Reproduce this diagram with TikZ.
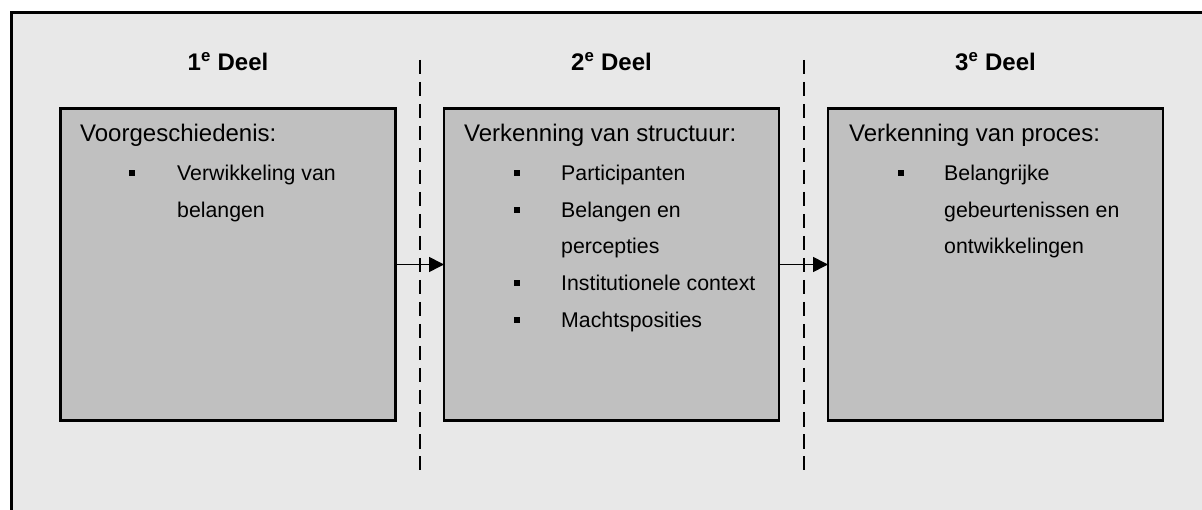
\documentclass[tikz,border=0pt]{standalone}
\usepackage{fontspec}
\setmainfont{Liberation Sans}
\usetikzlibrary{arrows.meta}
\definecolor{panelbg}{RGB}{232,232,232}
\definecolor{boxfill}{RGB}{192,192,192}
\begin{document}
\begin{tikzpicture}[x=1pt,y=-1pt,
  stagebox/.style={draw=black,line width=2.2pt,fill=boxfill,
    minimum width=335pt,minimum height=312pt,inner sep=0pt,outer sep=0pt},
  txt/.style={anchor=base west,inner sep=0pt,font=\fontsize{24}{29}\selectfont},
  item/.style={anchor=base west,inner sep=0pt,font=\fontsize{21.3}{26}\selectfont},
  head/.style={anchor=base,inner sep=0pt,font=\fontsize{24}{29}\selectfont\bfseries},
  sq/.style={fill=black,draw=none,minimum size=6pt,inner sep=0pt},
  divider/.style={line width=2pt,dash pattern=on 14.5pt off 7.5pt},
  flow/.style={line width=1.6pt,-{Triangle[length=15pt,width=15pt]}}]
  % canvas and frame
  \useasboundingbox (0,0) rectangle (1202,510);
  \fill[white] (0,0) rectangle (1202,510);
  \fill[panelbg] (10,11) rectangle (1202,510);
  \draw[line width=2.6pt] (11.3,512) -- (11.3,12.3) -- (1204,12.3);

  % dividers between the parts
  \coordinate (d1t) at (420,60);  \coordinate (d1b) at (420,470);
  \coordinate (d2t) at (804,60);  \coordinate (d2b) at (804,470);
  \draw[divider] (d1t) -- (d1b);
  \draw[divider] (d2t) -- (d2b);

  % the three stages
  \node[stagebox] (b1) at (228,264.5) {};
  \node[stagebox] (b2) at (611.5,264.5) {};
  \node[stagebox] (b3) at (995.5,264.5) {};

  \draw[flow] (b1) -- (b2);
  \draw[flow] (b2) -- (b3);

  % headings
  \node[head] (h1) at (228,71) {1\textsuperscript{e} Deel};
  \node[head] (h2) at (611.5,71) {2\textsuperscript{e} Deel};
  \node[head] (h3) at (995.5,71) {3\textsuperscript{e} Deel};

  % part 1
  \node[txt] (t1) at (80,142) {Voorgeschiedenis:};
  \node[sq] (s11) at (132,173) {};
  \node[item] (t11) at (177,181) {Verwikkeling van};
  \node[item] (t12) at (177,218) {belangen};

  % part 2
  \node[txt] (t2) at (464,142) {Verkenning van structuur:};
  \node[sq] (s21) at (517,173) {};
  \node[item] (t21) at (561,181) {Participanten};
  \node[sq] (s22) at (517,210) {};
  \node[item] (t22) at (561,218) {Belangen en};
  \node[item] (t23) at (561,254) {percepties};
  \node[sq] (s24) at (517,283) {};
  \node[item] (t24) at (561,291) {Institutionele context};
  \node[sq] (s25) at (517,320) {};
  \node[item] (t25) at (561,328) {Machtsposities};

  % part 3
  \node[txt] (t3) at (849,142) {Verkenning van proces:};
  \node[sq] (s31) at (901,173) {};
  \node[item] (t31) at (944,181) {Belangrijke};
  \node[item] (t32) at (944,218) {gebeurtenissen en};
  \node[item] (t33) at (944,254) {ontwikkelingen};
\end{tikzpicture}
\end{document}
